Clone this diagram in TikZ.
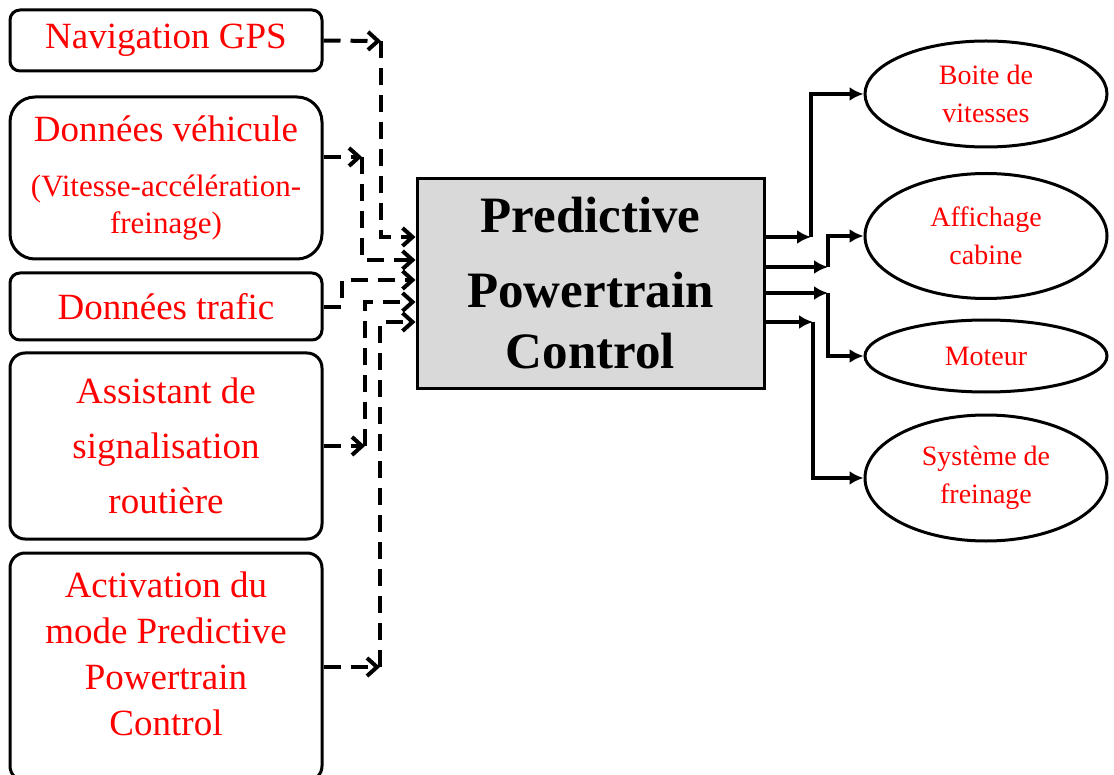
\documentclass[tikz,border=0pt]{standalone}
\usepackage{fontspec}
\setmainfont{LiberationSerif}[Extension=.ttf, UprightFont=*-Regular, BoldFont=*-Bold, ItalicFont=*-Italic, BoldItalicFont=*-BoldItalic]
\usepackage{tikz}
\usetikzlibrary{arrows.meta, shapes.geometric}
\definecolor{boxgray}{HTML}{D9D9D9}

\tikzset{
	source/.style = {draw, line width=1.5pt, minimum width=156pt, inner sep=0pt, align=center, text=red, font=\fontsize{18.5}{27.5}\selectfont},
	sink/.style = {draw, ellipse, line width=1.5pt, minimum width=121pt, inner sep=0pt, align=center, text=red, font=\fontsize{14}{19}\selectfont},
	dataflow/.style = {line width=2pt, dash pattern=on 8.5pt off 5pt, -{Straight Barb[length=5pt, width=9pt]}},
	ctrlflow/.style = {line width=2pt, -{Latex[length=7pt, width=7pt]}}
}

\begin{document}
\begin{tikzpicture}[x=0.5pt, y=-0.5pt]
	\clip (0,0) rectangle (1114,775);

	% inputs
	\node [source, rounded corners=5pt, minimum height=30.5pt] (gps) at (166,40.5) {Navigation GPS};
	\node [source, rounded corners=12.5pt, minimum height=81pt, font=\fontsize{15.5}{18.5}\selectfont] (veh) at (166,178)
		{\fontsize{18.5}{18.5}\selectfont Données véhicule\\[9pt](Vitesse-accélération-\\freinage)};
	\node [source, rounded corners=5pt, minimum height=33.5pt] (traf) at (166,306.5) {Données trafic};
	\node [source, rounded corners=7.5pt, minimum height=93pt] (assist) at (166,446) {Assistant de\\signalisation\\routière};
	\node [source, rounded corners=7.5pt, minimum height=114pt, font=\fontsize{18.5}{23}\selectfont, text depth=13pt] (activ) at (166,667)
		{Activation du\\mode Predictive\\Powertrain\\Control};

	% controller
	\node [draw, line width=1.5pt, fill=boxgray, minimum width=173.5pt, minimum height=104.5pt, align=center, font=\bfseries\fontsize{25.5}{30.5}\selectfont] (ppc) at (590.5,283.5)
		{Predictive\\[7pt]Powertrain\\Control};

	% outputs
	\node [sink, minimum height=53pt] (gear) at (986,94) {Boite de\\vitesses};
	\node [sink, minimum height=62.5pt] (cab) at (986,236) {Affichage\\cabine};
	\node [sink, minimum height=36pt] (eng) at (986,356) {Moteur};
	\node [sink, minimum height=63pt] (brake) at (986,478) {Système de\\freinage};

	% bends
	\coordinate (k1) at (381,41);
	\coordinate (k2) at (362,157);
	\coordinate (k3) at (342,307);
	\coordinate (k4) at (365,446);
	\coordinate (k5) at (380,667);
	\coordinate (i1) at (417,237);
	\coordinate (i2) at (417,260);
	\coordinate (i3) at (417,280);
	\coordinate (i4) at (417,302);
	\coordinate (i5) at (417,322);

	\coordinate (o1) at (811,237);
	\coordinate (o2) at (828,267);
	\coordinate (o3) at (828,293);
	\coordinate (o4) at (813,322);

	\draw [dataflow] (gps.east) -- (k1);
	\draw [dataflow] (k1) |- (ppc.west |- i1);
	\draw [dataflow] (veh.east |- k2) -- (k2);
	\draw [dataflow] (k2) |- (ppc.west |- i2);
	\draw [dataflow] (traf.east |- k3) -- (k3) |- (ppc.west |- i3);
	\draw [dataflow] (assist.east |- k4) -- (k4);
	\draw [dataflow] (k4) |- (ppc.west |- i4);
	\draw [dataflow] (activ.east) -- (k5);
	\draw [dataflow] (k5) |- (ppc.west |- i5);

	\draw [ctrlflow] (ppc.east |- o1) -- (o1);
	\draw [ctrlflow] (o1) |- (gear.west);
	\draw [ctrlflow] (ppc.east |- o2) -- (o2);
	\draw [ctrlflow] (o2) |- (cab.west);
	\draw [ctrlflow] (ppc.east |- o3) -- (o3);
	\draw [ctrlflow] (o3) |- (eng.west);
	\draw [ctrlflow] (ppc.east |- o4) -- (o4);
	\draw [ctrlflow] (o4) |- (brake.west);
\end{tikzpicture}
\end{document}
